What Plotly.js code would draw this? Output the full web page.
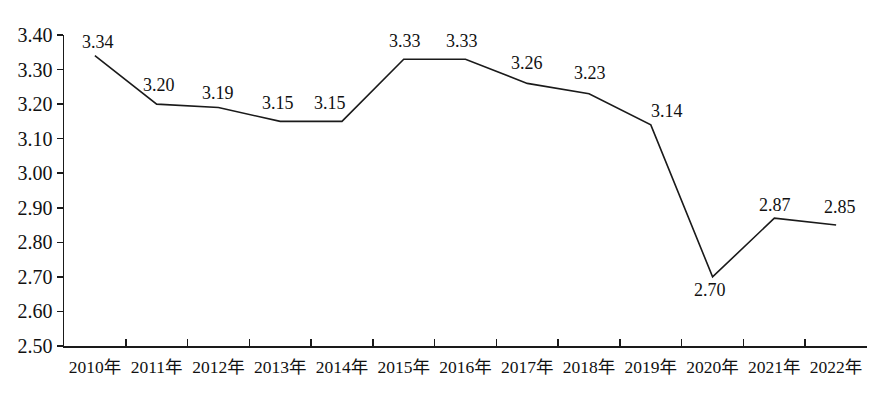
<!DOCTYPE html>
<html><head><meta charset="utf-8">
<script src="https://cdn.plot.ly/plotly-3.0.1.min.js"></script>
<style>body{margin:0;background:#fff}#c{width:896px;height:394px}</style>
</head><body><div id="c"></div>
<script>
const years = ["2010年","2011年","2012年","2013年","2014年","2015年","2016年","2017年","2018年","2019年","2020年","2021年","2022年"];
const values = [3.34,3.20,3.19,3.15,3.15,3.33,3.33,3.26,3.23,3.14,2.70,2.87,2.85];
const labels = ["3.34","3.20","3.19","3.15","3.15","3.33","3.33","3.26","3.23","3.14","2.70","2.87","2.85"];
const labelDx = [3,2,0,-2,-12,1,-4,0,1,16,-3,1,4];
const labelDy = [14,19,15,18,18,18,18,20,21,14,-13,13,18];
const yTicks = [2.5,2.6,2.7,2.8,2.9,3.0,3.1,3.2,3.3,3.4];
const fontFam = "Liberation Serif, 'Times New Roman', 'Noto Sans CJK SC', serif";
const annotations = years.map((yr,i)=>({
  x: yr, y: values[i], xref: "x", yref: "y", text: labels[i], showarrow: false,
  xshift: labelDx[i], yshift: labelDy[i],
  font: {family: fontFam, size: 18, color: "#111"}
}));
Plotly.newPlot("c", [{
  type: "scatter", mode: "lines",
  x: years, y: values,
  line: {color: "#1a1a1a", width: 1.6},
  cliponaxis: false, hoverinfo: "skip"
}], {
  width: 896, height: 394,
  margin: {l: 64, r: 29, t: 35, b: 48},
  paper_bgcolor: "#fff", plot_bgcolor: "#fff",
  showlegend: false,
  annotations: annotations,
  xaxis: {
    type: "category", tickson: "boundaries", ticks: "inside", ticklen: 7, tickwidth: 1.5, tickcolor: "#1a1a1a",
    showline: true, linecolor: "#1a1a1a", linewidth: 1.5, showgrid: false, zeroline: false,
    tickangle: 0, ticklabelstandoff: 4,
    tickfont: {family: fontFam, size: 17.5, color: "#111"}, range: [-0.5, 12.5], fixedrange: true
  },
  yaxis: {
    range: [2.5, 3.4], tickvals: yTicks, ticktext: yTicks.map(v=>v.toFixed(2)),
    ticks: "outside", ticklen: 6, tickwidth: 1.5, tickcolor: "#1a1a1a",
    showline: true, linecolor: "#1a1a1a", linewidth: 1.5, showgrid: false, zeroline: false,
    tickfont: {family: fontFam, size: 20, color: "#111"}, fixedrange: true
  }
}, {displayModeBar: false, staticPlot: true});
</script></body></html>
